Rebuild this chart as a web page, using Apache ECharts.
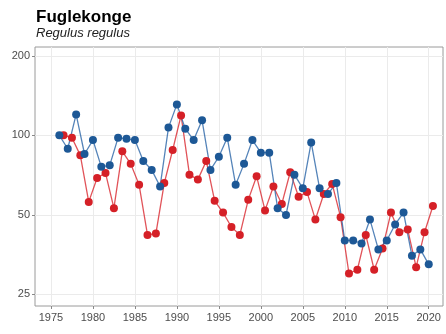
<!DOCTYPE html>
<html>
<head>
<meta charset="utf-8">
<script src="https://cdn.jsdelivr.net/npm/echarts@6/dist/echarts.min.js"></script>
<style>html,body{margin:0;padding:0;background:#fff}#c{width:446px;height:334px}</style>
</head>
<body>
<div id="c"></div>
<script>
var blueYears = [1976,1977,1978,1979,1980,1981,1982,1983,1984,1985,1986,1987,1988,1989,1990,1991,1992,1993,1994,1995,1996,1997,1998,1999,2000,2001,2002,2003,2004,2005,2006,2007,2008,2009,2010,2011,2012,2013,2014,2015,2016,2017,2018,2019,2020];
var blueValues = [100,89,120,85,96,76,77,98,97,96,80,74,64,107,131,106,96,114,74,83,98,65,78,96,86,86,53,50,71,63,94,63,60,66,40,40,39,48,37,40,46,51,35,37,32.5];
var redYears = [1976.5,1977.5,1978.5,1979.5,1980.5,1981.5,1982.5,1983.5,1984.5,1985.5,1986.5,1987.5,1988.5,1989.5,1990.5,1991.5,1992.5,1993.5,1994.5,1995.5,1996.5,1997.5,1998.5,1999.5,2000.5,2001.5,2002.5,2003.5,2004.5,2005.5,2006.5,2007.5,2008.5,2009.5,2010.5,2011.5,2012.5,2013.5,2014.5,2015.5,2016.5,2017.5,2018.5,2019.5,2020.5];
var redValues = [100,98,84,56,69,72,53,87,78,65,42,42.5,66,88,119,71,68,80,56.5,51,45,42,57,70,52,64,55,72.5,58.6,61,48,60,65.5,49,30,31,42,31,37.3,51,43,44,31.7,43,54];
var xTicks = [1975,1980,1985,1990,1995,2000,2005,2010,2015,2020];
var yTicks = [25,50,100,200];

function pairs(xs, ys){ return xs.map(function(x,i){ return [x, ys[i]]; }); }

var chart = echarts.init(document.getElementById('c'), null, {renderer:'canvas'});
var gridColor = '#ebebeb';
chart.setOption({
  animation: false,
  title: {
    text: 'Fuglekonge',
    subtext: 'Regulus regulus',
    left: 31, top: 4,
    itemGap: 1,
    textStyle: {fontFamily: 'Liberation Sans, Arial, sans-serif', fontWeight: 'bold', fontSize: 17, color: '#000'},
    subtextStyle: {fontFamily: 'Liberation Sans, Arial, sans-serif', fontStyle: 'italic', fontSize: 13, color: '#222'}
  },
  grid: {left: 35, right: 3, top: 47, bottom: 28, show: true, borderColor: '#9a9a9a', borderWidth: 1, backgroundColor: '#fff'},
  xAxis: {
    type: 'value', min: 1973.1, max: 2021.7,
    axisLine: {show: false},
    axisTick: {show: true, customValues: xTicks, length: 3, lineStyle: {color: '#888'}},
    axisLabel: {customValues: xTicks, formatter: function(v){ return String(Math.round(v)); }, color: '#4d4d4d', fontSize: 11, fontFamily: 'Liberation Sans, Arial, sans-serif', margin: 6},
    splitLine: {show: true, lineStyle: {color: gridColor, width: 1}}
  },
  yAxis: {
    type: 'log', logBase: 2, min: 22.6, max: 216,
    axisLine: {show: false},
    axisTick: {show: true, customValues: yTicks, length: 3, lineStyle: {color: '#888'}},
    axisLabel: {customValues: yTicks, formatter: function(v){ return String(Math.round(v)); }, color: '#4d4d4d', fontSize: 11, fontFamily: 'Liberation Sans, Arial, sans-serif', margin: 5},
    splitLine: {show: true, lineStyle: {color: gridColor, width: 1}}
  },
  series: [
    {
      type: 'line', name: 'red', data: pairs(redYears, redValues),
      symbol: 'circle', symbolSize: 8,
      lineStyle: {color: '#d9282f', width: 1.3, opacity: 0.8},
      itemStyle: {color: '#d52027'}
    },
    {
      type: 'line', name: 'blue', data: pairs(blueYears, blueValues),
      symbol: 'circle', symbolSize: 8,
      lineStyle: {color: '#2a65a8', width: 1.3, opacity: 0.8},
      itemStyle: {color: '#1d5896'}
    }
  ]
});
</script>
</body>
</html>
